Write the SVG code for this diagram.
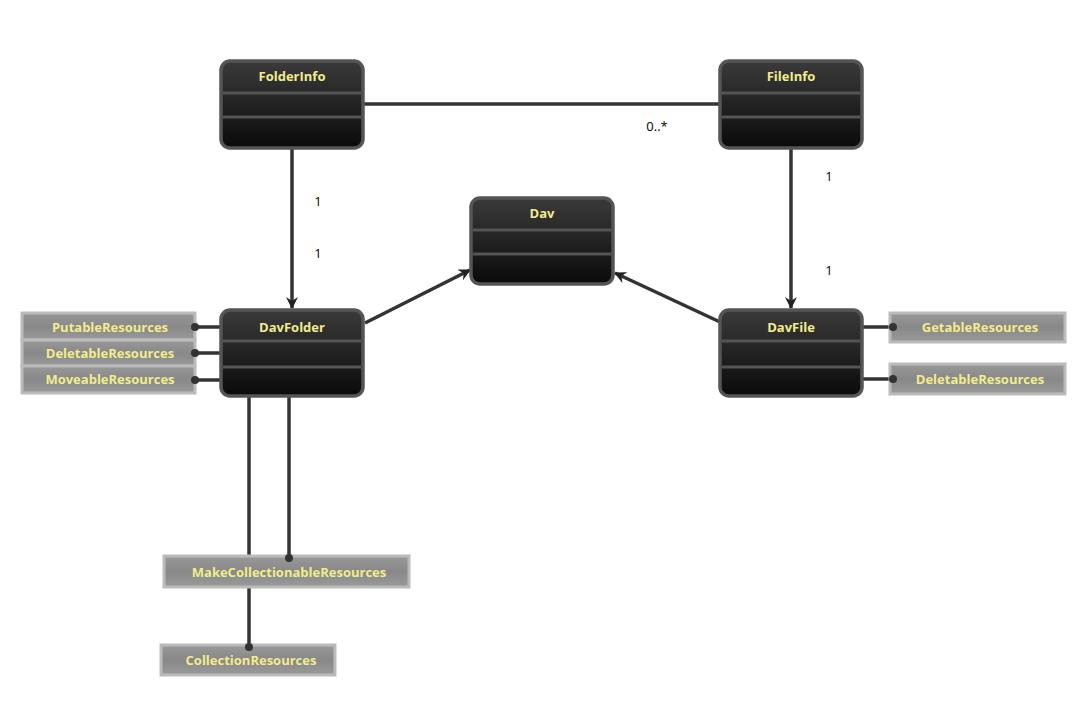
<svg xmlns="http://www.w3.org/2000/svg" width="1082" height="702" viewBox="0 0 1082 702">
<defs>
<linearGradient id="g" x1="0" y1="0" x2="0" y2="1"><stop offset="0" stop-color="#3a3a3a"/><stop offset="1" stop-color="#0a0a0a"/></linearGradient>
<linearGradient id="gb" x1="0" y1="0" x2="0" y2="1"><stop offset="0" stop-color="#999"/><stop offset="0.5" stop-color="#888"/><stop offset="1" stop-color="#9a9a9a"/></linearGradient>
<marker id="a" viewBox="0 0 12 12" refX="11" refY="6" markerWidth="12" markerHeight="12" markerUnits="userSpaceOnUse" orient="auto"><path d="M0,0 L12,6 L0,12 L4,6 Z" fill="#222"/></marker>
</defs>
<style>
.n rect.o{fill:url(#g);stroke:#555;stroke-width:3.5}
.n line{stroke:#555;stroke-width:3}
.t{font-family:"Open Sans","DejaVu Sans",sans-serif;font-weight:bold;font-size:13px;fill:#f3ec8c;text-anchor:middle}
.b rect{fill:url(#gb);stroke:#bbb;stroke-width:3}
.c line,.c path{stroke:#333;stroke-width:3.5;fill:none}
.l{font-family:"Open Sans","DejaVu Sans",sans-serif;font-size:13px;fill:#000}
.d{fill:#333}
</style>
<rect width="1082" height="702" fill="#fff"/>
<g class="c">
<line x1="363" y1="104" x2="720" y2="104" stroke="#222"/>
<line x1="292" y1="148" x2="292" y2="308" marker-end="url(#a)"/>
<line x1="791" y1="148" x2="791" y2="308" marker-end="url(#a)"/>
<line x1="365" y1="323" x2="470" y2="270" marker-end="url(#a)"/>
<line x1="720" y1="322" x2="615" y2="273" marker-end="url(#a)"/>
<line x1="249" y1="396" x2="249" y2="647"/>
<line x1="289" y1="396" x2="289" y2="558"/>
<line x1="195" y1="327" x2="221" y2="327"/>
<line x1="195" y1="353" x2="221" y2="353"/>
<line x1="195" y1="380" x2="221" y2="380"/>
<line x1="862" y1="327" x2="893" y2="327"/>
<line x1="862" y1="379" x2="893" y2="379"/>
</g>
<text class="l" x="657" y="131" text-anchor="middle">0..*</text>
<text class="l" x="318" y="206" text-anchor="middle">1</text>
<text class="l" x="318" y="258" text-anchor="middle">1</text>
<text class="l" x="829" y="181" text-anchor="middle">1</text>
<text class="l" x="829" y="275" text-anchor="middle">1</text>
<g id="FolderInfo" class="n"><rect class="o" x="221" y="61" width="142" height="87" rx="9"/><line x1="223" y1="93" x2="361" y2="93"/><line x1="223" y1="117" x2="361" y2="117"/><text class="t" x="292" y="81">FolderInfo</text></g>
<g id="FileInfo" class="n"><rect class="o" x="720" y="61" width="142" height="87" rx="9"/><line x1="722" y1="93" x2="860" y2="93"/><line x1="722" y1="117" x2="860" y2="117"/><text class="t" x="791" y="81">FileInfo</text></g>
<g id="Dav" class="n"><rect class="o" x="471" y="198" width="142" height="86" rx="9"/><line x1="473" y1="230" x2="611" y2="230"/><line x1="473" y1="254" x2="611" y2="254"/><text class="t" x="542" y="218">Dav</text></g>
<g id="DavFolder" class="n"><rect class="o" x="221" y="310" width="142" height="86" rx="9"/><line x1="223" y1="341" x2="361" y2="341"/><line x1="223" y1="367" x2="361" y2="367"/><text class="t" x="292" y="332">DavFolder</text></g>
<g id="DavFile" class="n"><rect class="o" x="720" y="310" width="142" height="86" rx="9"/><line x1="722" y1="341" x2="860" y2="341"/><line x1="722" y1="367" x2="860" y2="367"/><text class="t" x="791" y="332">DavFile</text></g>
<g id="PutableResources" class="b"><rect x="22" y="313" width="173" height="27"/><text class="t" x="110" y="332">PutableResources</text></g>
<g id="DeletableResources1" class="b"><rect x="22" y="340" width="173" height="26"/><text class="t" x="110" y="358">DeletableResources</text></g>
<g id="MoveableResources" class="b"><rect x="22" y="366" width="173" height="27"/><text class="t" x="110" y="384">MoveableResources</text></g>
<g id="GetableResources" class="b"><rect x="890" y="313" width="175" height="29"/><text class="t" x="980" y="332">GetableResources</text></g>
<g id="DeletableResources2" class="b"><rect x="890" y="364" width="175" height="30"/><text class="t" x="980" y="384">DeletableResources</text></g>
<g id="MakeCollectionableResources" class="b"><rect x="164" y="556" width="245" height="31"/><text class="t" x="289" y="577">MakeCollectionableResources</text></g>
<g id="CollectionResources" class="b"><rect x="161" y="645" width="174" height="30"/><text class="t" x="251" y="665">CollectionResources</text></g>
<g>
<circle class="d" cx="195" cy="327" r="4"/><circle class="d" cx="195" cy="353" r="4"/><circle class="d" cx="195" cy="380" r="4"/>
<circle class="d" cx="893" cy="327" r="4"/><circle class="d" cx="893" cy="379" r="4"/>
<circle class="d" cx="289" cy="558" r="4"/><circle class="d" cx="249" cy="647" r="4"/>
</g>
</svg>
